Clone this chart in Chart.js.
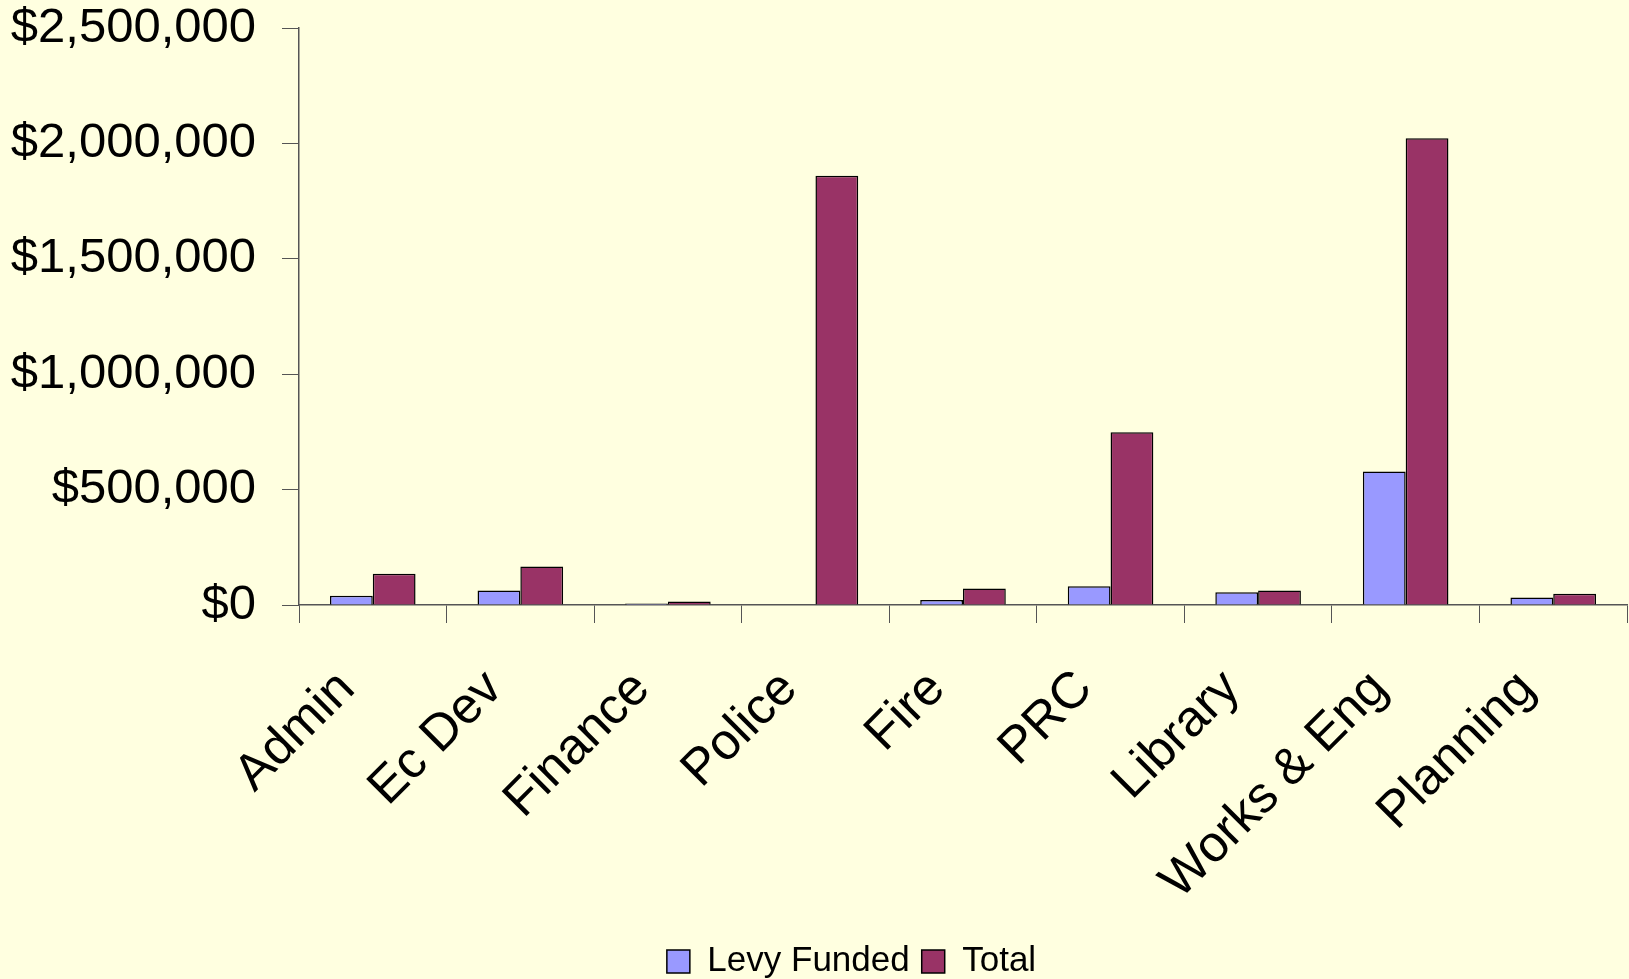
<!DOCTYPE html>
<html>
<head>
<meta charset="utf-8">
<script src="https://cdn.jsdelivr.net/npm/chart.js@4.4.0/dist/chart.umd.min.js"></script>
<style>
  html, body { margin: 0; padding: 0; background: #FFFFE0; }
  #wrap { width: 1629px; height: 979px; }
</style>
</head>
<body>
<div id="wrap"><canvas id="chart" width="1629" height="979"></canvas></div>
<script>
const departments = ['Admin', 'Ec Dev', 'Finance', 'Police', 'Fire', 'PRC', 'Library', 'Works & Eng', 'Planning'];
const levyFunded = [40000, 63000, 6000, 0, 22000, 81000, 55000, 578000, 32000];
const totals = [135000, 167000, 15000, 1860000, 71000, 748000, 63000, 2022000, 49000];
const yTicks = [0, 500000, 1000000, 1500000, 2000000, 2500000];

const FONT = '"Liberation Sans", Arial, sans-serif';

const bgPlugin = {
  id: 'bg',
  beforeDraw(chart) {
    const ctx = chart.ctx;
    ctx.save();
    ctx.fillStyle = '#FFFFE0';
    ctx.fillRect(0, 0, chart.width, chart.height);
    ctx.restore();
  }
};

// legend in the original sits a bit right of the canvas centre and lower down
const legendShift = {
  id: 'legendShift',
  afterLayout(chart) {
    const lg = chart.legend;
    if (!lg) return;
    const dx = 38, dy = 10;
    lg.left += dx; lg.right += dx;
    lg.top += dy; lg.bottom += dy;
  }
};

const ctx = document.getElementById('chart').getContext('2d');
new Chart(ctx, {
  type: 'bar',
  data: {
    labels: departments,
    datasets: [
      {
        label: 'Levy Funded',
        data: levyFunded,
        backgroundColor: '#9999FF',
        borderColor: '#000000',
        borderWidth: 1.5,
        categoryPercentage: 0.58,
        barPercentage: 1.0
      },
      {
        label: 'Total',
        data: totals,
        backgroundColor: '#993366',
        borderColor: '#000000',
        borderWidth: 1.5,
        categoryPercentage: 0.58,
        barPercentage: 1.0
      }
    ]
  },
  options: {
    responsive: false,
    animation: false,
    layout: { padding: { top: 0, right: 2, left: 0, bottom: 0 } },
    scales: {
      x: {
        grid: {
          offset: true,
          drawOnChartArea: false,
          drawTicks: true,
          tickLength: 18,
          color: '#555'
        },
        border: { color: '#555', width: 1.5 },
        ticks: {
          color: '#000',
          font: { family: FONT, size: 51 },
          maxRotation: 45,
          minRotation: 45,
          padding: 36,
          labelOffset: -26,
          autoSkip: false
        },
        afterFit(scale) {
          scale.height = 317;
          scale.paddingLeft = 0;
          scale.paddingRight = 0;
        }
      },
      y: {
        min: 0,
        max: 2500000,
        afterBuildTicks(scale) {
          scale.ticks = yTicks.map(v => ({ value: v }));
        },
        grid: {
          drawOnChartArea: false,
          drawTicks: true,
          tickLength: 17,
          color: '#555'
        },
        border: { color: '#555', width: 1.5 },
        ticks: {
          color: '#000',
          font: { family: FONT, size: 49 },
          padding: 26,
          callback: (value) => '$' + Number(value).toLocaleString('en-US')
        },
        afterFit(scale) {
          scale.width = 299;
          scale.paddingTop = 28;
          scale.paddingBottom = 28;
        }
      }
    },
    plugins: {
      legend: {
        position: 'bottom',
        labels: {
          color: '#000',
          font: { family: FONT, size: 35 },
          boxWidth: 23,
          boxHeight: 23,
          padding: 12,
          useBorderRadius: false
        }
      },
      tooltip: { enabled: false }
    }
  },
  plugins: [bgPlugin, legendShift]
});
</script>
</body>
</html>
